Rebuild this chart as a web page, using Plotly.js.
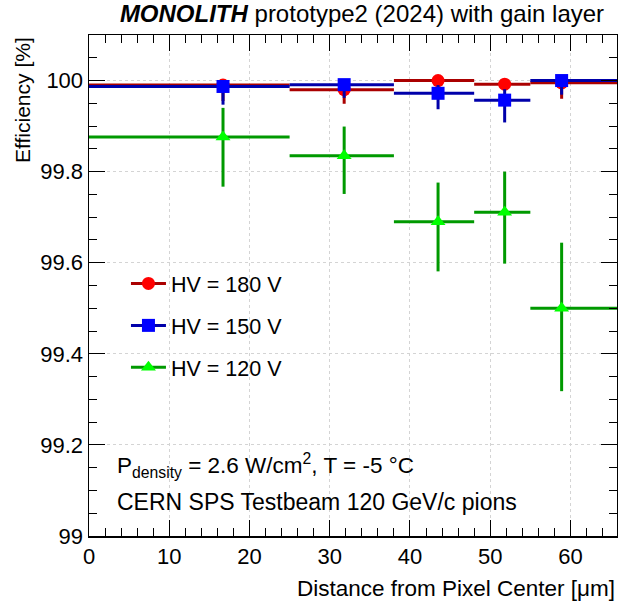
<!DOCTYPE html>
<html>
<head>
<meta charset="utf-8">
<script src="https://cdn.plot.ly/plotly-3.0.1.min.js"></script>
<style>html,body{margin:0;padding:0;background:#fff;}#chart{width:618px;height:607px;}</style>
</head>
<body>
<div id="chart"></div>
<script>
// ---- data ----
const binLow  = [0, 25, 38, 48, 55];
const binHigh = [25, 38, 48, 55, 70];
const xCenter = [16.7, 31.8, 43.5, 51.8, 58.9];

const hv180   = [99.990, 99.980, 100.000, 99.992, 99.995];
const hv180Lo = [99.955, 99.949, 99.985, 99.980, 99.960];
const hv180Hi = [100.000, 99.995, 100.000, 100.000, 100.000];

const hv150   = [99.987, 99.991, 99.972, 99.957, 100.000];
const hv150Lo = [99.947, 99.962, 99.937, 99.908, 99.969];
const hv150Hi = [100.000, 100.000, 99.990, 99.981, 100.000];

const hv120   = [99.876, 99.835, 99.690, 99.711, 99.500];
const hv120Lo = [99.767, 99.751, 99.581, 99.598, 99.318];
const hv120Hi = [99.940, 99.899, 99.776, 99.800, 99.644];

const seriesNames = ['HV = 180 V', 'HV = 150 V', 'HV = 120 V'];

// ---- build traces ----
const xMinus = xCenter.map((c, i) => c - binLow[i]);
const xPlus  = xCenter.map((c, i) => binHigh[i] - c);
const FONT = 'Liberation Sans, Arial, Helvetica, sans-serif';
const FS = 21.5;

function dataTrace(y, lo, hi, lineColor, markerColor, symbol, size) {
  return {
    type: 'scatter', mode: 'markers', x: xCenter, y: y, showlegend: false,
    cliponaxis: true,
    marker: {color: markerColor, symbol: symbol, size: size, line: {width: 0}},
    error_x: {type: 'data', symmetric: false, array: xPlus, arrayminus: xMinus,
              color: lineColor, thickness: 3, width: 0},
    error_y: {type: 'data', symmetric: false,
              array: y.map((v, i) => hi[i] - v), arrayminus: y.map((v, i) => v - lo[i]),
              color: lineColor, thickness: 3, width: 0},
    hoverinfo: 'x+y'
  };
}
function legendTrace(name, lineColor, markerColor, symbol, size, grp) {
  return {
    type: 'scatter', mode: 'lines+markers', x: [null], y: [null], name: name,
    legendgroup: grp, showlegend: true,
    line: {color: lineColor, width: 3},
    marker: {color: markerColor, symbol: symbol, size: size, line: {width: 0}}
  };
}

const traces = [
  dataTrace(hv120, hv120Lo, hv120Hi, '#009900', '#00ff00', 'triangle-up', 13),
  dataTrace(hv180, hv180Lo, hv180Hi, '#aa0000', '#ff0000', 'circle', 13),
  dataTrace(hv150, hv150Lo, hv150Hi, '#0000aa', '#0000ff', 'square', 13),
  legendTrace(seriesNames[0], '#aa0000', '#ff0000', 'circle', 13, 'a'),
  legendTrace(seriesNames[1], '#0000aa', '#0000ff', 'square', 13, 'b'),
  legendTrace(seriesNames[2], '#009900', '#00ff00', 'triangle-up', 13, 'c')
];

const axisCommon = {
  showline: true, linecolor: '#000', linewidth: 1.5, mirror: 'allticks',
  ticks: 'inside', tickcolor: '#000', tickwidth: 1, ticklen: 16,
  showgrid: true, gridcolor: '#d4d4d4', griddash: 'dot', gridwidth: 1,
  zeroline: false, tickfont: {family: FONT, size: 22, color: '#000'}
};

const layout = {
  width: 618, height: 607,
  margin: {l: 89, r: 1, t: 35, b: 71},
  paper_bgcolor: '#fff', plot_bgcolor: '#fff',
  font: {family: FONT, color: '#000'},
  title: {text: '<b><i>MONOLITH</i></b> prototype2 (2024) with gain layer',
          font: {family: FONT, size: 24, color: '#000'},
          xref: 'paper', x: 0.517, xanchor: 'center', yref: 'container', y: 0.977, yanchor: 'middle'},
  xaxis: Object.assign({}, axisCommon, {
    range: [0, 65.8], dtick: 10, tick0: 0,
    minor: {dtick: 2, ticklen: 8, tickcolor: '#000', showgrid: false, ticks: 'inside'}
  }),
  yaxis: Object.assign({}, axisCommon, {
    range: [99, 100.1], dtick: 0.2, tick0: 99, tickformat: '~g',
    minor: {dtick: 0.05, ticklen: 8, tickcolor: '#000', showgrid: false, ticks: 'inside'}
  }),
  showlegend: true,
  legend: {x: 0.07, y: 0.545, xanchor: 'left', yanchor: 'top', bgcolor: 'rgba(0,0,0,0)',
           traceorder: 'grouped', tracegroupgap: 11, itemwidth: 35,
           font: {family: FONT, size: FS, color: '#000'}},
  annotations: [
    {text: 'Efficiency [%]', textangle: -90, xref: 'paper', yref: 'paper',
     x: -0.127, y: 1, xanchor: 'center', yanchor: 'top', showarrow: false,
     font: {family: FONT, size: 21, color: '#000'}},
    {text: 'Distance from Pixel Center [\u03bcm]', xref: 'paper', yref: 'paper',
     x: 1, y: -0.104, xanchor: 'right', yanchor: 'middle', showarrow: false,
     font: {family: FONT, size: 22.5, color: '#000'}},
    {text: 'P<sub>density</sub> = 2.6 W/cm<sup>2</sup>, T = -5 \u00b0C', xref: 'paper', yref: 'paper',
     x: 0.05, y: 0.14, xanchor: 'left', yanchor: 'middle', showarrow: false,
     font: {family: FONT, size: 22.5, color: '#000'}},
    {text: 'CERN SPS Testbeam 120 GeV/c pions', xref: 'paper', yref: 'paper',
     x: 0.05, y: 0.068, xanchor: 'left', yanchor: 'middle', showarrow: false,
     font: {family: FONT, size: 23, color: '#000'}}
  ]
};

Plotly.newPlot('chart', traces, layout, {displayModeBar: false, staticPlot: true});
</script>
</body>
</html>
